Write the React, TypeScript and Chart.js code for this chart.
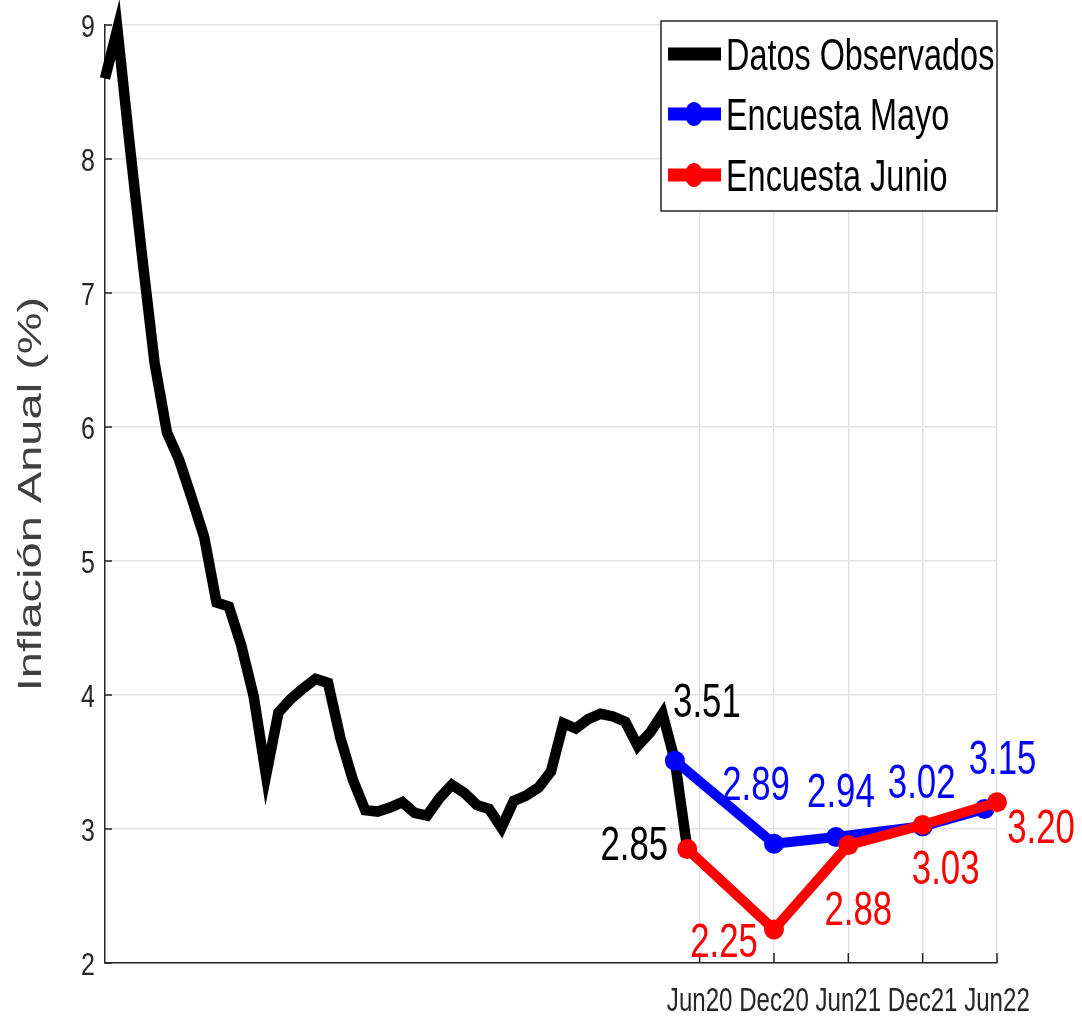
import React, { useEffect, useRef } from 'react';
import { Chart, registerables } from 'chart.js';

Chart.register(...registerables);

// Month index 0 = Jun 2016
const observedMonths = [
  0, 1, 2, 3, 4, 5, 6, 7, 8, 9, 10, 11, 12, 13, 14, 15, 16, 17, 18, 19, 20, 21, 22, 23,
  24, 25, 26, 27, 28, 29, 30, 31, 32, 33, 34, 35, 36, 37, 38, 39, 40, 41, 42, 43, 44, 45, 46, 47,
];
const observedValues = [
  8.6, 8.97, 8.1, 7.27, 6.48, 5.96, 5.75,
  5.47, 5.18, 4.69, 4.66, 4.37, 3.99, 3.4, 3.87, 3.97, 4.05, 4.12, 4.09,
  3.68, 3.37, 3.14, 3.13, 3.16, 3.2, 3.12, 3.1, 3.23, 3.33, 3.27, 3.18,
  3.15, 3.01, 3.21, 3.25, 3.31, 3.43, 3.79, 3.75, 3.82, 3.86, 3.84, 3.8,
  3.62, 3.72, 3.86, 3.51, 2.85,
];
const mayoMonths = [46, 54, 59, 66, 71];
const mayoValues = [3.51, 2.89, 2.94, 3.02, 3.15];
const junioMonths = [47, 54, 60, 66, 72];
const junioValues = [2.85, 2.25, 2.88, 3.03, 3.2];

const tickMonths = [48, 54, 60, 66, 72];
const tickLabels = ['Jun20', 'Dec20', 'Jun21', 'Dec21', 'Jun22'];
const yTickValues = [2, 3, 4, 5, 6, 7, 8, 9];

const seriesNames = ['Datos Observados', 'Encuesta Mayo', 'Encuesta Junio'];
const seriesColors = ['#000000', '#0000ff', '#ff0000'];
const yTitle = 'Inflación Anual (%)';

// label placement (pixel offsets of the label centre from its point)
const labelPlacements = [
  { series: 0, i: 46, dx: 32, dy: -61 },
  { series: 0, i: 47, dx: -53, dy: -7 },
  { series: 1, i: 1, dx: -18, dy: -61 },
  { series: 1, i: 2, dx: 5, dy: -48 },
  { series: 1, i: 3, dx: -1, dy: -46 },
  { series: 1, i: 4, dx: 18, dy: -52 },
  { series: 2, i: 1, dx: -50, dy: 10 },
  { series: 2, i: 2, dx: 10, dy: 62 },
  { series: 2, i: 3, dx: 23, dy: 42 },
  { series: 2, i: 4, dx: 44, dy: 23 },
];

const FONT = "'Liberation Sans', Arial, sans-serif";
const AXIS_COLOR = '#262626';

function squashText(ctx: CanvasRenderingContext2D, text: string, x: number, baseline: number, size: number, color: string, sx: number, align: CanvasTextAlign) {
  ctx.save();
  ctx.translate(x, baseline);
  ctx.scale(sx, 1);
  ctx.font = `${size}px ${FONT}`;
  ctx.fillStyle = color;
  ctx.textAlign = align;
  ctx.textBaseline = 'alphabetic';
  ctx.fillText(text, 0, 0);
  ctx.restore();
}

const decorPlugin = {
  id: 'decor',
  afterDraw(chart: any) {
    const ctx: CanvasRenderingContext2D = chart.ctx;
    const xs = chart.scales.x;
    const ys = chart.scales.y;
    const area = chart.chartArea;

    // inward tick marks
    ctx.save();
    ctx.strokeStyle = AXIS_COLOR;
    ctx.lineWidth = 1.5;
    ctx.beginPath();
    yTickValues.forEach((v) => {
      const py = ys.getPixelForValue(v);
      ctx.moveTo(area.left, py);
      ctx.lineTo(area.left + 7, py);
    });
    tickMonths.forEach((m) => {
      const px = xs.getPixelForValue(m);
      ctx.moveTo(px, area.bottom);
      ctx.lineTo(px, area.bottom - 10);
    });
    ctx.stroke();
    ctx.restore();

    // tick labels (positioned by the scales)
    yTickValues.forEach((v) => {
      const py = ys.getPixelForValue(v);
      squashText(ctx, String(v), area.left - 10, py + 11.5, 32, AXIS_COLOR, 0.78, 'right');
    });
    tickMonths.forEach((m, k) => {
      const px = xs.getPixelForValue(m);
      squashText(ctx, tickLabels[k], px, area.bottom + 48, 33, AXIS_COLOR, 0.73, 'center');
    });

    // y axis title
    ctx.save();
    ctx.translate(41, (area.top + area.bottom) / 2);
    ctx.rotate(-Math.PI / 2);
    ctx.scale(1, 0.7);
    ctx.font = `47px ${FONT}`;
    ctx.fillStyle = '#404040';
    ctx.textAlign = 'center';
    ctx.textBaseline = 'alphabetic';
    ctx.fillText(yTitle, 0, 0);
    ctx.restore();

    // data labels
    const seriesX = [observedMonths, mayoMonths, junioMonths];
    const seriesY = [observedValues, mayoValues, junioValues];
    labelPlacements.forEach((p) => {
      const mx = seriesX[p.series][p.i];
      const vy = seriesY[p.series][p.i];
      const cx = xs.getPixelForValue(mx) + p.dx;
      const cy = ys.getPixelForValue(vy) + p.dy;
      squashText(ctx, vy.toFixed(2), cx, cy + 17.5, 49, seriesColors[p.series], 0.71, 'center');
    });

    // legend
    const lx = 661, ly = 21, lw = 336, lh = 190;
    ctx.save();
    ctx.fillStyle = '#ffffff';
    ctx.fillRect(lx, ly, lw, lh);
    ctx.strokeStyle = AXIS_COLOR;
    ctx.lineWidth = 1.5;
    ctx.strokeRect(lx, ly, lw, lh);
    const rows = [54, 114, 175];
    rows.forEach((ry, k) => {
      ctx.strokeStyle = seriesColors[k];
      ctx.lineWidth = 13;
      ctx.lineCap = 'butt';
      ctx.beginPath();
      ctx.moveTo(668, ry);
      ctx.lineTo(721, ry);
      ctx.stroke();
      if (k > 0) {
        ctx.fillStyle = seriesColors[k];
        ctx.beginPath();
        ctx.ellipse(694, ry, 9, 12, 0, 0, Math.PI * 2);
        ctx.fill();
      }
      squashText(ctx, seriesNames[k], 726, ry + 16, 45, '#000000', 0.72, 'left');
    });
    ctx.restore();
  },
};

export default function App() {
  const ref = useRef<HTMLCanvasElement | null>(null);

  useEffect(() => {
    if (!ref.current) return;
    const mk = (xsArr: number[], ysArr: number[]) => xsArr.map((x, i) => ({ x, y: ysArr[i] }));
    const chart = new Chart(ref.current, {
      type: 'line',
      data: {
        datasets: [
          {
            label: seriesNames[0],
            data: mk(observedMonths, observedValues),
            borderColor: seriesColors[0],
            backgroundColor: seriesColors[0],
            borderWidth: 10.5,
            pointRadius: 0,
            order: 3,
            clip: false as any,
          },
          {
            label: seriesNames[1],
            data: mk(mayoMonths, mayoValues),
            borderColor: seriesColors[1],
            backgroundColor: seriesColors[1],
            borderWidth: 10,
            pointRadius: 10,
            pointBorderWidth: 0,
            pointBackgroundColor: seriesColors[1],
            borderJoinStyle: 'round',
            order: 2,
            clip: false as any,
          },
          {
            label: seriesNames[2],
            data: mk(junioMonths, junioValues),
            borderColor: seriesColors[2],
            backgroundColor: seriesColors[2],
            borderWidth: 10,
            pointRadius: 10,
            pointBorderWidth: 0,
            pointBackgroundColor: seriesColors[2],
            borderJoinStyle: 'round',
            order: 1,
            clip: false as any,
          },
        ],
      },
      options: {
        animation: false,
        responsive: false,
        layout: { padding: { top: 25, right: 85, left: 0, bottom: 0 } },
        plugins: { legend: { display: false }, tooltip: { enabled: false } },
        scales: {
          x: {
            type: 'linear',
            min: 0,
            max: 72,
            afterBuildTicks: (scale: any) => {
              scale.ticks = tickMonths.map((v) => ({ value: v }));
            },
            afterFit: (scale: any) => {
              scale.height = 55;
            },
            ticks: { display: false },
            grid: { color: '#e3e3e3', lineWidth: 1.5, drawTicks: false },
            border: { color: AXIS_COLOR, width: 1.5 },
          },
          y: {
            min: 2,
            max: 9,
            afterBuildTicks: (scale: any) => {
              scale.ticks = yTickValues.map((v) => ({ value: v }));
            },
            afterFit: (scale: any) => {
              scale.width = 105;
            },
            ticks: { display: false },
            grid: { color: '#e3e3e3', lineWidth: 1.5, drawTicks: false },
            border: { color: AXIS_COLOR, width: 1.5 },
          },
        },
      },
      plugins: [decorPlugin],
    });
    return () => chart.destroy();
  }, []);

  return (
    <div style={{ position: 'absolute', left: 0, top: 0, width: 1082, height: 1018, background: '#ffffff' }}>
      <canvas ref={ref} width={1082} height={1018} style={{ display: 'block' }} />
    </div>
  );
}
